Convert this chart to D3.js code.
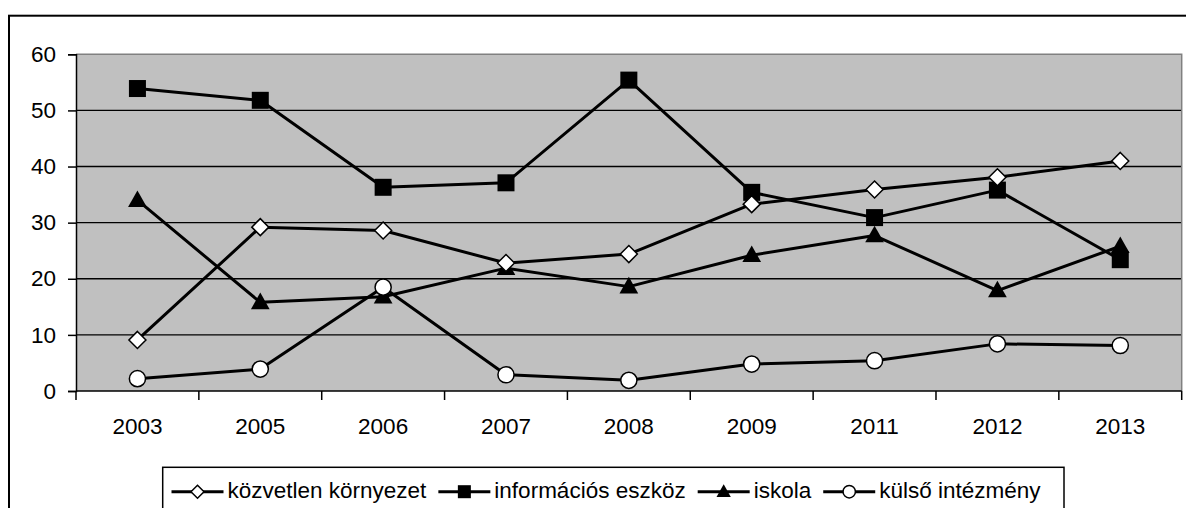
<!DOCTYPE html>
<html>
<head>
<meta charset="utf-8">
<script src="https://cdn.jsdelivr.net/npm/d3@7"></script>
<style>
  body { margin: 0; background: #fff; }
  svg { display: block; font-family: "Liberation Sans", Arial, sans-serif; }
</style>
</head>
<body>
<div id="chart"></div>
<script>
const years = ['2003', '2005', '2006', '2007', '2008', '2009', '2011', '2012', '2013']
const yTicks = [0, 10, 20, 30, 40, 50, 60]
const seriesNames = ['közvetlen környezet', 'információs eszköz', 'iskola', 'külső intézmény']
const kozvetlen = [9.1, 29.2, 28.6, 22.8, 24.4, 33.3, 35.9, 38.1, 41.0]
const informacios = [53.9, 51.8, 36.3, 37.1, 55.4, 35.4, 30.9, 35.8, 23.4]
const iskola = [34.0, 15.8, 16.8, 21.9, 18.6, 24.2, 27.7, 17.9, 25.8]
const kulso = [2.2, 3.9, 18.5, 2.9, 1.9, 4.8, 5.4, 8.4, 8.1]
const markers = ['diamond', 'square', 'triangle', 'circle']

const width = 1186, height = 508
const plot = { left: 76, right: 1181.7, top: 54.3, bottom: 391 }
const fontSize = 22.5

const svg = d3.select('#chart').append('svg')
  .attr('width', width)
  .attr('height', height)

// outer frame (runs off the right/bottom edge)
svg.append('rect')
  .attr('x', 9).attr('y', 15.7)
  .attr('width', 1300).attr('height', 600)
  .attr('fill', '#fff').attr('stroke', '#000').attr('stroke-width', 2)

const x = d3.scaleBand().domain(years).range([plot.left, plot.right]).paddingInner(0).paddingOuter(0)
const y = d3.scaleLinear().domain([0, 60]).range([plot.bottom, plot.top])

// plot background
svg.append('rect')
  .attr('x', plot.left).attr('y', plot.top)
  .attr('width', plot.right - plot.left).attr('height', plot.bottom - plot.top)
  .attr('fill', '#c0c0c0')

// gridlines
svg.append('g').selectAll('line')
  .data(yTicks.filter(d => d > 0 && d < 60))
  .enter().append('line')
  .attr('x1', plot.left).attr('x2', plot.right)
  .attr('y1', d => y(d)).attr('y2', d => y(d))
  .attr('stroke', '#000').attr('stroke-width', 1.4)

// gray border top/right
svg.append('path')
  .attr('d', `M${plot.left},${plot.top}H${plot.right}V${plot.bottom}`)
  .attr('fill', 'none').attr('stroke', '#808080').attr('stroke-width', 1.5)

// y axis
const yAxis = d3.axisLeft(y).tickValues(yTicks).tickSize(8).tickPadding(12)
svg.append('g')
  .attr('transform', `translate(${plot.left},0)`)
  .call(yAxis)
  .call(g => g.select('.domain').attr('stroke', '#000').attr('stroke-width', 1.5))
  .call(g => g.selectAll('.tick line').attr('stroke', '#000').attr('stroke-width', 1.5))
  .call(g => g.selectAll('.tick text').attr('font-size', fontSize).attr('fill', '#000')
    .attr('font-family', '"Liberation Sans", Arial, sans-serif'))

// x axis: line + ticks at band edges
svg.append('line')
  .attr('x1', plot.left).attr('x2', plot.right)
  .attr('y1', plot.bottom).attr('y2', plot.bottom)
  .attr('stroke', '#000').attr('stroke-width', 1.5)
const edges = years.map(d => x(d)).concat([plot.right])
svg.append('g').selectAll('line')
  .data(edges).enter().append('line')
  .attr('x1', d => d).attr('x2', d => d)
  .attr('y1', plot.bottom).attr('y2', plot.bottom + 9)
  .attr('stroke', '#000').attr('stroke-width', 1.5)
svg.append('g').selectAll('text')
  .data(years).enter().append('text')
  .attr('x', d => x(d) + x.bandwidth() / 2)
  .attr('y', 434)
  .attr('text-anchor', 'middle')
  .attr('font-size', fontSize)
  .text(d => d)

const cx = i => x(years[i]) + x.bandwidth() / 2
const allSeries = [kozvetlen, informacios, iskola, kulso]

function drawMarker(g, type, px, py, s) {
  if (type === 'diamond') {
    g.append('path')
      .attr('d', `M${px},${py - s}L${px + s},${py}L${px},${py + s}L${px - s},${py}Z`)
      .attr('fill', '#fff').attr('stroke', '#000').attr('stroke-width', 1.5)
  } else if (type === 'square') {
    g.append('rect')
      .attr('x', px - s).attr('y', py - s).attr('width', 2 * s).attr('height', 2 * s)
      .attr('fill', '#000')
  } else if (type === 'triangle') {
    g.append('path')
      .attr('d', `M${px},${py - s * 1.15}L${px + s * 1.1},${py + s * 0.8}L${px - s * 1.1},${py + s * 0.8}Z`)
      .attr('fill', '#000')
  } else {
    g.append('circle')
      .attr('cx', px).attr('cy', py).attr('r', s * 0.95)
      .attr('fill', '#fff').attr('stroke', '#000').attr('stroke-width', 1.5)
  }
}

// lines
const line = d3.line().x((d, i) => cx(i)).y(d => y(d))
allSeries.forEach(vals => {
  svg.append('path')
    .datum(vals)
    .attr('d', line)
    .attr('fill', 'none').attr('stroke', '#000').attr('stroke-width', 3)
    .attr('stroke-linejoin', 'round')
})

// markers: square, triangle, diamond, circle
const markerLayer = svg.append('g')
;[1, 2, 0, 3].forEach(si => {
  allSeries[si].forEach((v, i) => drawMarker(markerLayer, markers[si], cx(i), y(v), 8.5))
})

// legend
const legend = svg.append('g')
legend.append('rect')
  .attr('x', 162.7).attr('y', 467.3)
  .attr('width', 901.3).attr('height', 80)
  .attr('fill', '#fff').attr('stroke', '#000').attr('stroke-width', 1.5)
let cursor = 171.5
seriesNames.forEach((name, si) => {
  const ly = 491.7
  legend.append('line')
    .attr('x1', cursor).attr('x2', cursor + 52)
    .attr('y1', ly).attr('y2', ly)
    .attr('stroke', '#000').attr('stroke-width', 3)
  drawMarker(legend, markers[si], cursor + 26, ly, 6.5)
  const t = legend.append('text')
    .attr('x', cursor + 56).attr('y', 498)
    .attr('font-size', fontSize)
    .text(name)
  cursor += 56 + t.node().getComputedTextLength() + 12
})
</script>
</body>
</html>
